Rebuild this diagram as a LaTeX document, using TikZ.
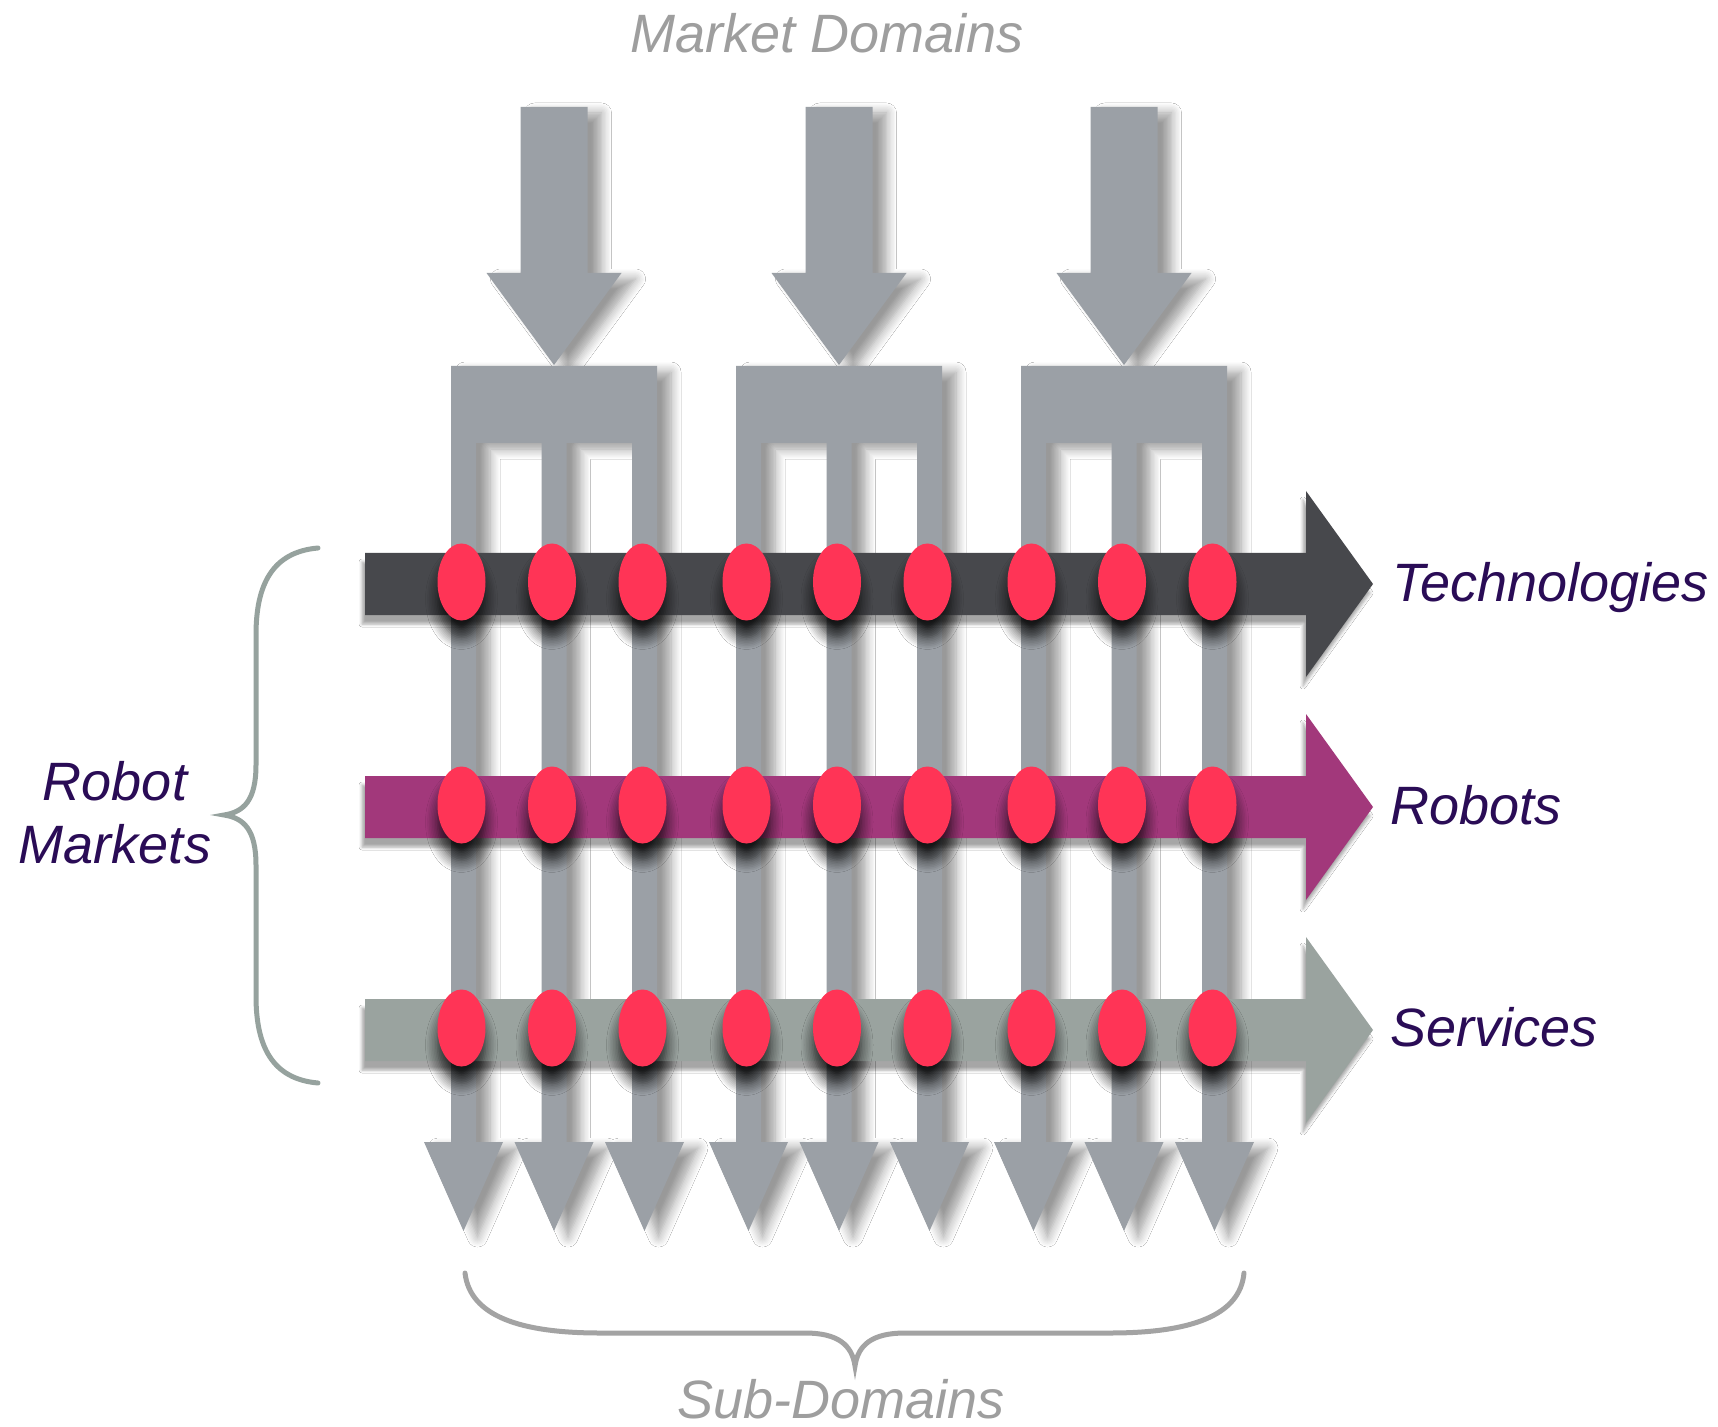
\documentclass[tikz,border=0pt]{standalone}
\usepackage{fontspec}
\setmainfont{Liberation Sans}
\usetikzlibrary{shadows.blur}

\definecolor{armgray}{HTML}{9BA0A6}
\definecolor{techgray}{HTML}{47484C}
\definecolor{robotpurple}{HTML}{A2387B}
\definecolor{servgray}{HTML}{9AA39F}
\definecolor{dotred}{HTML}{FF3456}
\definecolor{labelpurple}{HTML}{2A0C56}
\definecolor{captiongray}{HTML}{9E9E9E}
\definecolor{bracegray}{HTML}{A3A3A3}
\definecolor{sidebrace}{HTML}{96A29E}

\begin{document}
\begin{tikzpicture}[x=0.5pt,y=-0.5pt,
  armshadow/.style={blur shadow={shadow xshift=7pt,shadow yshift=-3pt,
      shadow blur radius=5pt,shadow opacity=40,shadow blur steps=8}},
  barshadow/.style={blur shadow={shadow xshift=-1.5pt,shadow yshift=-4.5pt,
      shadow blur radius=1.5pt,shadow opacity=35,shadow blur steps=4}},
  dotshadow/.style={blur shadow={shadow xshift=0pt,shadow yshift=-8.5pt,
      shadow blur radius=6pt,shadow opacity=80,shadow blur steps=8}},
  label/.style={font=\fontsize{27}{32}\selectfont\itshape,inner sep=0pt},
  rowlabel/.style={label,text=labelpurple,anchor=base west},
  caption/.style={label,text=captiongray,anchor=base},
  brace/.style={line width=2.5pt,line cap=round}]

% canvas
\fill[white] (0,0) rectangle (1718,1427);
\useasboundingbox (0,0) rectangle (1718,1427);

% market domains: incoming arrow and three-pronged fork per domain
\foreach \g in {554,839,1124}{
  \fill[armgray,armshadow]
    ({\g-33.5},107) -- ({\g+33.5},107) -- ({\g+33.5},273) -- ({\g+67.5},273)
    -- (\g,365) -- ({\g-67.5},273) -- ({\g-33.5},273) -- cycle;
  \fill[armgray,armshadow]
    ({\g-103},366) -- ({\g+103},366) -- ({\g+103},1142)
    -- ({\g+130},1142) -- ({\g+90.5},1231) -- ({\g+51},1142) -- ({\g+78},1142)
    -- ({\g+78},443) -- ({\g+12.5},443) -- ({\g+12.5},1142)
    -- ({\g+39.5},1142) -- (\g,1231) -- ({\g-39.5},1142) -- ({\g-12.5},1142)
    -- ({\g-12.5},443) -- ({\g-78},443) -- ({\g-78},1142)
    -- ({\g-51},1142) -- ({\g-90.5},1231) -- ({\g-130},1142) -- ({\g-103},1142)
    -- cycle;
}

% robot market rows
\foreach \y/\c in {584/techgray,807/robotpurple,1030/servgray}{
  \fill[\c,barshadow]
    (365,{\y-31}) -- (1306,{\y-31}) -- (1306,{\y-93}) -- (1373,\y)
    -- (1306,{\y+93}) -- (1306,{\y+31}) -- (365,{\y+31}) -- cycle;
}

% intersections of sub-domains and market rows
\foreach \y in {584,807,1030}{
  \foreach \g in {554,839,1124}{
    \foreach \p in {-90.5,0,90.5}{
      \fill[dotred,dotshadow] ({\g+\p-2},{\y-2}) ellipse [x radius=24,y radius=38.5];
    }
  }
}

% labels
\node[caption] (mkt) at (827,53) {Market Domains};
\node[caption] (sub) at (841,1418) {Sub-Domains};
\node[rowlabel] (tech) at (1392,602) {Technologies};
\node[rowlabel] (rob) at (1390,824) {Robots};
\node[rowlabel] (serv) at (1390,1046) {Services};
\node[label,text=labelpurple,anchor=base] (rm1) at (115,800) {Robot};
\node[label,text=labelpurple,anchor=base] (rm2) at (115,863) {Markets};

% brace grouping the three rows
\draw[brace,sidebrace]
  (318,548) .. controls (272,552) and (256,585) .. (256,635)
  -- (256,765) .. controls (256,800) and (244,812) .. (224,815)
  .. controls (244,818) and (256,830) .. (256,865)
  -- (256,996) .. controls (256,1046) and (272,1079) .. (318,1083);

% brace under the sub-domain arrows
\draw[brace,bracegray]
  (465,1273) .. controls (470,1316) and (520,1333) .. (600,1333)
  -- (805,1333) .. controls (838,1333) and (852,1345) .. (855,1366)
  .. controls (858,1345) and (872,1333) .. (905,1333)
  -- (1110,1333) .. controls (1190,1333) and (1240,1316) .. (1244,1273);
\end{tikzpicture}
\end{document}
